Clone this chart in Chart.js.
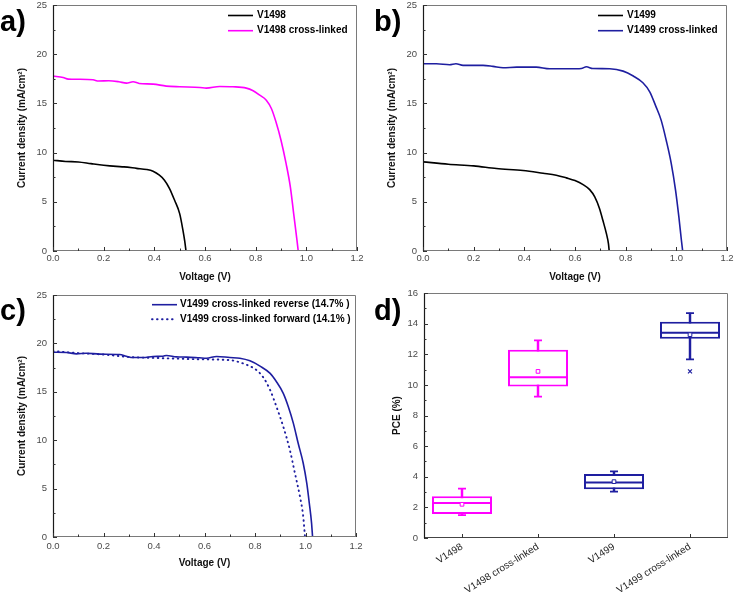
<!DOCTYPE html>
<html>
<head>
<meta charset="utf-8">
<script src="https://cdn.jsdelivr.net/npm/chart.js@4.4.1/dist/chart.umd.min.js"></script>
<style>
  html, body { margin: 0; padding: 0; background: #fff; }
  #wrap { position: relative; width: 734px; height: 593px; overflow: hidden; background: #fff; }
  .panel { position: absolute; }
  .lab { position: absolute; font: bold 29px Arial, "Liberation Sans", sans-serif; line-height: 29px; color: #000; }
</style>
</head>
<body>
<div id="wrap">
  <div class="panel" style="left:0;top:0;width:370px;height:290px"><canvas id="ca" width="370" height="290"></canvas></div>
  <div class="panel" style="left:370px;top:0;width:364px;height:290px"><canvas id="cb" width="364" height="290"></canvas></div>
  <div class="panel" style="left:0;top:290px;width:370px;height:303px"><canvas id="cc" width="370" height="303"></canvas></div>
  <div class="panel" style="left:370px;top:290px;width:364px;height:303px"><canvas id="cd" width="364" height="303"></canvas></div>
  <div class="lab" style="left:0;top:7px">a)</div>
  <div class="lab" style="left:374px;top:7px">b)</div>
  <div class="lab" style="left:0;top:296px">c)</div>
  <div class="lab" style="left:374px;top:296px">d)</div>
</div>
<script>
// ---------- tick values ----------
const jvXTicks = [0, 0.2, 0.4, 0.6, 0.8, 1.0, 1.2];
const jvXMinor = [0.1, 0.3, 0.5, 0.7, 0.9, 1.1];
const jvYTicks = [0, 5, 10, 15, 20, 25];
const jvYMinor = [2.5, 7.5, 12.5, 17.5, 22.5];
const pceYTicks = [0, 2, 4, 6, 8, 10, 12, 14, 16];
const pceYMinor = [1, 3, 5, 7, 9, 11, 13, 15];

// ---------- panel a ----------
const vA1498 = [0, 0.05, 0.1, 0.15, 0.2, 0.25, 0.28, 0.33, 0.37, 0.395, 0.42, 0.44, 0.46, 0.48, 0.5, 0.513, 0.52, 0.525];
const jA1498 = [9.23, 9.1, 9.05, 8.88, 8.72, 8.6, 8.55, 8.4, 8.28, 8.1, 7.7, 7.2, 6.35, 5.15, 3.8, 2.1, 1.0, 0];
const vA1498x = [0, 0.04, 0.06, 0.1, 0.158, 0.18, 0.22, 0.26, 0.29, 0.316, 0.34, 0.395, 0.447, 0.5, 0.58, 0.605, 0.658, 0.71, 0.763, 0.79, 0.816, 0.842, 0.862, 0.88, 0.9, 0.92, 0.937, 0.95, 0.963, 0.968];
const jA1498x = [17.78, 17.64, 17.47, 17.45, 17.4, 17.27, 17.3, 17.2, 17.06, 17.2, 17.03, 16.96, 16.76, 16.69, 16.62, 16.55, 16.72, 16.69, 16.55, 16.28, 15.84, 15.33, 14.48, 13.13, 11.26, 8.9, 6.5, 3.8, 1.1, 0];

// ---------- panel b ----------
const vB1499 = [0, 0.1, 0.2, 0.29, 0.395, 0.474, 0.526, 0.566, 0.6, 0.632, 0.658, 0.678, 0.697, 0.71, 0.724, 0.732, 0.735];
const jB1499 = [9.06, 8.82, 8.65, 8.38, 8.18, 7.9, 7.7, 7.43, 7.16, 6.75, 6.24, 5.5, 4.3, 3.12, 1.76, 0.75, 0];
const vB1499x = [0, 0.053, 0.105, 0.13, 0.158, 0.237, 0.276, 0.316, 0.37, 0.447, 0.5, 0.58, 0.625, 0.645, 0.67, 0.737, 0.79, 0.83, 0.868, 0.895, 0.92, 0.94, 0.96, 0.98, 0.997, 1.01, 1.02, 1.025];
const jB1499x = [19.03, 19.03, 18.93, 19.03, 18.86, 18.86, 18.76, 18.62, 18.69, 18.69, 18.52, 18.52, 18.55, 18.72, 18.55, 18.52, 18.28, 17.78, 17.1, 16.18, 14.65, 13.3, 11.26, 8.89, 6.17, 3.46, 1.09, 0];

// ---------- panel c ----------
const vCrev = [0, 0.053, 0.093, 0.132, 0.185, 0.264, 0.29, 0.317, 0.357, 0.396, 0.436, 0.449, 0.489, 0.529, 0.58, 0.608, 0.648, 0.7, 0.74, 0.78, 0.82, 0.86, 0.885, 0.912, 0.932, 0.952, 0.971, 0.991, 1.005, 1.015, 1.024, 1.028];
const jCrev = [19.09, 19.06, 18.92, 18.99, 18.89, 18.85, 18.68, 18.54, 18.54, 18.65, 18.68, 18.75, 18.61, 18.58, 18.51, 18.47, 18.65, 18.54, 18.47, 18.2, 17.65, 16.9, 16.04, 14.84, 13.46, 11.74, 9.68, 7.62, 5.56, 3.5, 1.44, 0];
const vCfwd = [0, 0.05, 0.1, 0.2, 0.3, 0.4, 0.5, 0.6, 0.7, 0.76, 0.806, 0.833, 0.86, 0.885, 0.912, 0.938, 0.958, 0.978, 0.991, 0.998];
const jCfwd = [19.2, 19.1, 19.0, 18.85, 18.6, 18.5, 18.42, 18.35, 18.27, 17.86, 17.24, 16.48, 15.18, 13.46, 11.4, 9.0, 6.6, 4.19, 2.13, 0];

// ---------- panel d (box plot of PCE) ----------
const pceCategories = ['V1498', 'V1498 cross-linked', 'V1499', 'V1499 cross-linked'];
const pceQ1 = [1.57, 9.9, 3.18, 13.02];
const pceQ3 = [2.72, 12.3, 4.18, 14.13];
const pceMedian = [2.29, 10.5, 3.63, 13.41];
const pceMean = [2.2, 10.88, 3.68, 13.28];
const pceMin = [1.5, 9.23, 3.03, 11.67];
const pceMax = [3.22, 12.9, 4.35, 14.69];
const pceOutlier = [null, null, null, 10.88];

// ---------- styling ----------
const MAGENTA = '#ff00ff';
const BLUE = '#1e1ea0';
const BLACK = '#000000';
const pceColors = [MAGENTA, MAGENTA, BLUE, BLUE];
const FAMILY = 'Arial, "Liberation Sans", sans-serif';
const TICK_FONT = { family: FAMILY, size: 9.5 };
const TITLE_FONT = { family: FAMILY, size: 10, weight: 'bold' };
const TICK_COLOR = '#4a4a4a';

const pts = (xs, ys) => xs.map((x, i) => ({ x: x, y: ys[i] }));
const fitX = h => s => { s.height = h; s.paddingLeft = 0; s.paddingRight = 0; s.paddingTop = 0; s.paddingBottom = 0; };
const fitY = w => s => { s.width = w; s.paddingLeft = 0; s.paddingRight = 0; s.paddingTop = 0; s.paddingBottom = 0; };

// frame + inward ticks
const frameTicks = {
  id: 'frameTicks',
  afterDraw(chart, args, o) {
    const { ctx, chartArea: a, scales } = chart;
    const xs = scales.x, ys = scales.y;
    ctx.save();
    ctx.lineWidth = 1;
    ctx.strokeStyle = '#7a7a7a';
    ctx.beginPath();
    ctx.moveTo(a.left, a.top + 0.5); ctx.lineTo(a.right - 0.5, a.top + 0.5); ctx.lineTo(a.right - 0.5, a.bottom);
    ctx.stroke();
    ctx.strokeStyle = o.bottomColor || '#7a7a7a';
    ctx.beginPath(); ctx.moveTo(a.left, a.bottom - 0.5); ctx.lineTo(a.right, a.bottom - 0.5); ctx.stroke();
    ctx.strokeStyle = '#1a1a1a'; ctx.lineWidth = 1.2;
    ctx.beginPath(); ctx.moveTo(a.left + 0.5, a.top); ctx.lineTo(a.left + 0.5, a.bottom); ctx.stroke();
    ctx.strokeStyle = '#333'; ctx.lineWidth = 1;
    const vtick = (px, len) => { ctx.beginPath(); ctx.moveTo(Math.round(px) + 0.5, a.bottom); ctx.lineTo(Math.round(px) + 0.5, a.bottom - len); ctx.stroke(); };
    const htick = (py, len) => { ctx.beginPath(); ctx.moveTo(a.left, Math.round(py) + 0.5); ctx.lineTo(a.left + len, Math.round(py) + 0.5); ctx.stroke(); };
    xs.ticks.forEach((t, i) => vtick(xs.getPixelForTick(i), 4));
    (o.xMinor || []).forEach(v => vtick(xs.getPixelForValue(v), 2.5));
    ys.ticks.forEach((t, i) => htick(ys.getPixelForTick(i), 4));
    (o.yMinor || []).forEach(v => htick(ys.getPixelForValue(v), 2.5));
    ctx.restore();
  }
};

// legend drawn inside the plot
const inLegend = {
  id: 'inLegend',
  afterDraw(chart, args, o) {
    if (!o || !o.show) return;
    const ctx = chart.ctx;
    chart.data.datasets.forEach((ds, i) => {
      const y = o.y + i * o.rowH;
      ctx.save();
      ctx.strokeStyle = ds.borderColor;
      ctx.lineWidth = ds.borderWidth;
      ctx.lineCap = ds.borderCapStyle || 'butt';
      ctx.setLineDash(ds.borderDash || []);
      ctx.beginPath(); ctx.moveTo(o.x, y); ctx.lineTo(o.x + o.len, y); ctx.stroke();
      ctx.setLineDash([]);
      ctx.fillStyle = '#000';
      ctx.font = 'bold 10px ' + FAMILY;
      ctx.textBaseline = 'middle';
      ctx.textAlign = 'left';
      ctx.fillText(ds.label, o.textX, y);
      ctx.restore();
    });
  }
};

function jvOptions(p) {
  return {
    responsive: false, animation: false, events: [],
    layout: { autoPadding: false, padding: { top: p.top, right: p.right, bottom: 0, left: 0 } },
    plugins: {
      legend: { display: false }, tooltip: { enabled: false },
      inLegend: p.legend,
      frameTicks: { xMinor: jvXMinor, yMinor: jvYMinor }
    },
    elements: { point: { radius: 0 } },
    scales: {
      x: {
        type: 'linear', min: 0, max: 1.2,
        afterBuildTicks: s => { s.ticks = jvXTicks.map(v => ({ value: v })); },
        afterFit: fitX(p.xH),
        grid: { display: false, drawTicks: false }, border: { display: false },
        ticks: { padding: p.xTickPad, color: TICK_COLOR, font: TICK_FONT, maxRotation: 0, autoSkip: false,
                 callback: v => Number(v).toFixed(1) },
        title: { display: true, text: 'Voltage (V)', color: '#111', font: TITLE_FONT, padding: { top: 0, bottom: p.xTitlePad } }
      },
      y: {
        type: 'linear', min: 0, max: 25,
        afterBuildTicks: s => { s.ticks = jvYTicks.map(v => ({ value: v })); },
        afterFit: fitY(53),
        grid: { display: false, drawTicks: false }, border: { display: false },
        ticks: { padding: 6, color: TICK_COLOR, font: TICK_FONT, callback: v => String(v) },
        title: { display: true, text: 'Current density (mA/cm²)', color: '#111', font: TITLE_FONT, padding: { top: 16, bottom: 0 } }
      }
    }
  };
}

const lineDs = (label, xs, ys, color, extra) => Object.assign({
  label: label, data: pts(xs, ys), borderColor: color, backgroundColor: color,
  borderWidth: 1.6, pointRadius: 0, cubicInterpolationMode: 'monotone', fill: false
}, extra || {});

new Chart(document.getElementById('ca'), {
  type: 'line',
  data: { datasets: [
    lineDs('V1498', vA1498, jA1498, BLACK),
    lineDs('V1498 cross-linked', vA1498x, jA1498x, MAGENTA)
  ] },
  options: jvOptions({ top: 5, right: 13, xH: 39, xTickPad: 2, xTitlePad: 7,
    legend: { show: true, x: 228, len: 25, textX: 257, y: 15.5, rowH: 15.2 } }),
  plugins: [frameTicks, inLegend]
});

new Chart(document.getElementById('cb'), {
  type: 'line',
  data: { datasets: [
    lineDs('V1499', vB1499, jB1499, BLACK),
    lineDs('V1499 cross-linked', vB1499x, jB1499x, BLUE)
  ] },
  options: jvOptions({ top: 5, right: 7, xH: 39, xTickPad: 2, xTitlePad: 7,
    legend: { show: true, x: 228, len: 25, textX: 257, y: 15.5, rowH: 15.2 } }),
  plugins: [frameTicks, inLegend]
});

new Chart(document.getElementById('cc'), {
  type: 'line',
  data: { datasets: [
    lineDs('V1499 cross-linked reverse (14.7% )', vCrev, jCrev, BLUE),
    lineDs('V1499 cross-linked forward (14.1% )', vCfwd, jCfwd, BLUE,
      { borderDash: [0.6, 4.4], borderCapStyle: 'round', borderWidth: 1.9 })
  ] },
  options: jvOptions({ top: 5, right: 14, xH: 56, xTickPad: 4, xTitlePad: 24,
    legend: { show: true, x: 152, len: 25, textX: 180, y: 14.7, rowH: 14.6 } }),
  plugins: [frameTicks, inLegend]
});

// box plot
new Chart(document.getElementById('cd'), {
  type: 'bar',
  data: {
    labels: pceCategories,
    datasets: [
      { type: 'bar', label: 'range', data: pceMin.map((v, i) => [v, pceMax[i]]), backgroundColor: pceColors,
        borderWidth: 0, barThickness: 1.8, grouped: false, order: 5 },
      { type: 'bar', label: 'box', data: pceQ1.map((v, i) => [v, pceQ3[i]]), backgroundColor: '#ffffff',
        borderColor: pceColors, borderWidth: 2, borderSkipped: false, grouped: false,
        barPercentage: 0.79, categoryPercentage: 1, order: 4 },
      { type: 'line', label: 'median', data: pceMedian, showLine: false, pointStyle: 'line', pointRadius: 30,
        pointBorderWidth: 2, pointBorderColor: pceColors, order: 2 },
      { type: 'line', label: 'max', data: pceMax, showLine: false, pointStyle: 'line', pointRadius: 4,
        pointBorderWidth: 1.8, pointBorderColor: pceColors, order: 2 },
      { type: 'line', label: 'min', data: pceMin, showLine: false, pointStyle: 'line', pointRadius: 4,
        pointBorderWidth: 1.8, pointBorderColor: pceColors, order: 2 },
      { type: 'line', label: 'mean', data: pceMean, showLine: false, pointStyle: 'rect', pointRadius: 2.6,
        pointBorderWidth: 1, pointBorderColor: pceColors, pointBackgroundColor: '#ffffff', order: 1 },
      { type: 'line', label: 'outlier', data: pceOutlier, showLine: false, pointStyle: 'crossRot', pointRadius: 2.8,
        pointBorderWidth: 1.2, pointBorderColor: pceColors, order: 1 }
    ]
  },
  options: {
    responsive: false, animation: false, events: [],
    layout: { autoPadding: false, padding: { top: 3, right: 6, bottom: 0, left: 0 } },
    plugins: { legend: { display: false }, tooltip: { enabled: false },
      frameTicks: { yMinor: pceYMinor, bottomColor: '#444' } },
    scales: {
      x: {
        type: 'category', offset: true,
        afterFit: fitX(55),
        grid: { display: false, drawTicks: false }, border: { display: false },
        ticks: { minRotation: 32, maxRotation: 32, padding: 3, autoSkip: false, color: '#222',
                 font: { family: FAMILY, size: 10 } }
      },
      y: {
        type: 'linear', min: 0, max: 16,
        afterBuildTicks: s => { s.ticks = pceYTicks.map(v => ({ value: v })); },
        afterFit: fitY(54),
        grid: { display: false, drawTicks: false }, border: { display: false },
        ticks: { padding: 6, color: TICK_COLOR, font: TICK_FONT, callback: v => String(v) },
        title: { display: true, text: 'PCE (%)', color: '#111', font: TITLE_FONT, padding: { top: 21, bottom: 0 } }
      }
    }
  },
  plugins: [frameTicks]
});
</script>
</body>
</html>
